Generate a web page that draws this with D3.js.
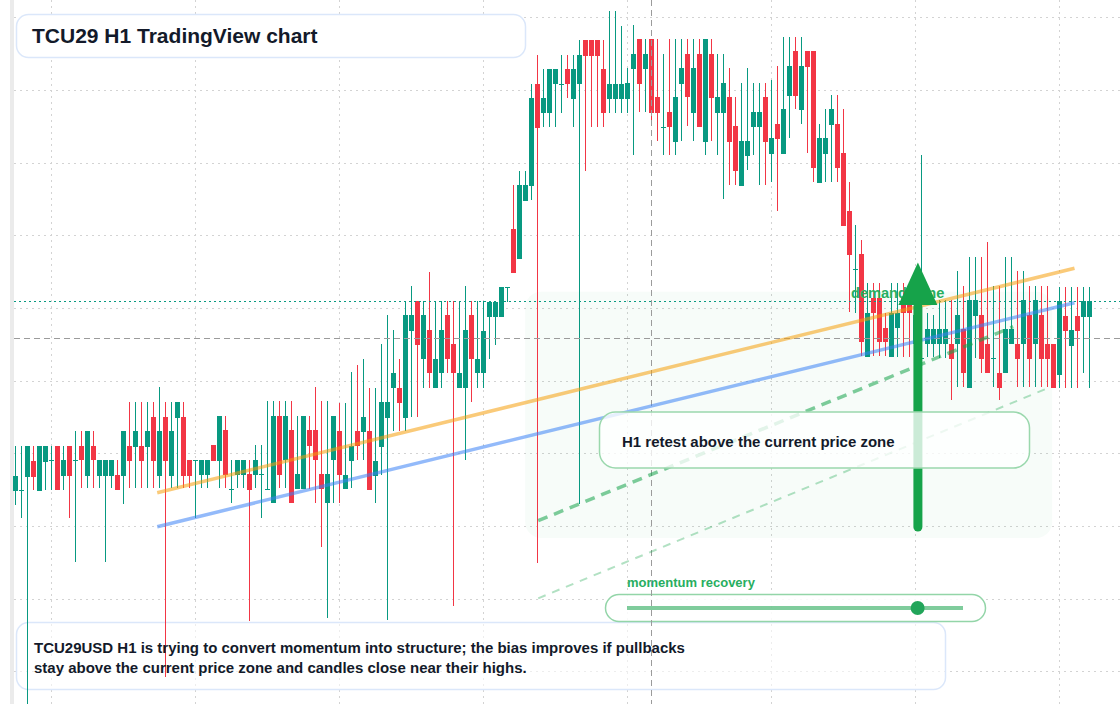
<!DOCTYPE html>
<html>
<head>
<meta charset="utf-8">
<script src="https://cdn.jsdelivr.net/npm/d3@7"></script>
<style>
  html, body { margin: 0; padding: 0; background: #fff; }
  svg { display: block; font-family: "Liberation Sans", Arial, sans-serif; }
</style>
</head>
<body>
<div id="chart"></div>
<script>
// H1 candles (price units)
const opens = [
  50.93,51.00,52.33,53.90,50.93,53.83,53.97,55.40,52.40,55.40,
  53.97,55.40,52.40,55.40,52.40,52.40,52.40,52.50,52.40,55.40,
  55.33,55.40,55.33,58.33,52.40,58.33,52.40,58.23,58.33,54.00,
  53.97,52.50,52.50,55.50,53.90,57.00,51.07,52.50,52.50,52.57,
  52.50,52.57,51.07,49.67,58.40,54.00,57.00,51.07,51.07,57.00,
  57.00,52.57,49.67,54.00,56.90,51.07,53.90,56.90,56.83,56.90,
  52.40,55.33,58.23,61.17,61.23,58.23,66.93,69.90,64.07,67.00,
  61.17,62.67,68.50,65.60,61.17,61.17,68.50,62.67,62.67,68.33,
  68.33,68.33,71.27,77.10,74.10,79.93,81.43,91.60,88.67,88.67,
  91.57,91.57,93.10,90.10,91.57,96.00,96.00,96.00,93.10,90.10,
  90.10,90.10,90.10,93.10,96.10,93.10,96.10,90.27,87.33,88.77,
  85.83,91.60,94.60,88.73,94.60,85.83,94.60,88.73,88.73,90.27,
  87.40,81.43,84.43,87.33,87.33,90.27,84.60,87.60,84.60,90.43,
  94.90,89.00,94.90,94.90,81.73,84.60,87.50,87.60,84.73,78.90,
  73.07,74.60,64.33,70.17,70.17,67.23,64.33,67.23,70.17,70.17,
  65.60,64.20,65.57,65.57,65.57,65.57,65.60,65.57,67.10,61.23,
  68.43,68.50,65.60,64.17,62.67,62.67,65.57,65.60,65.57,68.50,
  65.57,68.50,65.60,65.60,62.50,68.40,65.43,68.40,68.33,68.33
];
const highs = [
  55.40,55.40,55.40,55.40,55.40,55.40,55.40,55.40,55.40,55.40,
  56.90,56.90,56.90,56.90,54.00,54.00,54.00,54.00,56.90,59.83,
  59.83,59.83,59.83,59.83,61.27,59.83,59.83,59.83,59.83,54.00,
  53.97,54.00,54.00,55.50,58.40,58.40,53.97,54.00,54.00,53.97,
  55.50,55.50,59.90,59.90,59.90,59.90,59.90,58.40,58.40,58.40,
  61.33,59.90,59.90,58.40,59.73,59.73,62.80,63.50,64.10,61.23,
  61.23,65.60,68.50,67.00,64.10,69.90,71.40,69.90,69.90,72.80,
  69.90,69.90,69.90,69.90,69.90,71.40,69.90,69.90,69.90,69.83,
  69.83,71.33,71.27,81.50,82.90,82.90,91.60,94.50,93.10,93.10,
  93.10,94.50,94.50,94.50,96.00,96.00,96.00,96.00,96.00,98.90,
  98.90,97.40,93.17,97.50,96.10,96.10,96.10,96.10,94.60,96.10,
  96.10,96.10,96.10,96.10,96.10,96.10,96.10,94.60,94.60,93.17,
  90.27,91.67,93.17,91.67,91.67,91.67,92.00,93.40,96.33,96.33,
  96.33,96.33,94.90,94.90,87.60,89.10,90.50,90.50,89.10,81.83,
  77.50,76.00,71.73,71.73,71.73,68.67,71.73,71.73,71.73,71.73,
  70.00,84.50,68.67,68.50,70.00,70.00,70.00,72.90,71.40,74.27,
  74.27,74.27,75.77,71.40,71.40,74.27,74.27,72.90,72.90,71.40,
  71.40,71.40,71.40,65.60,71.27,71.27,71.27,71.27,71.27,71.27
];
const lows = [
  49.50,48.17,29.60,51.00,50.93,51.00,51.00,51.00,51.00,48.23,
  43.83,51.17,51.17,51.17,51.17,43.83,51.17,51.00,49.60,51.17,
  51.17,51.17,51.17,51.17,51.17,32.33,51.17,51.17,51.17,51.17,
  48.17,51.17,51.17,53.90,51.17,51.17,49.73,51.17,51.17,37.90,
  51.17,48.23,51.07,49.67,51.17,51.17,49.67,51.07,51.07,51.07,
  49.67,45.33,38.17,49.67,49.67,51.07,51.17,54.00,54.00,51.00,
  49.67,52.50,38.00,56.90,56.90,56.90,58.33,58.33,61.23,61.23,
  61.17,61.23,62.67,39.43,61.17,54.00,59.83,61.23,61.17,64.07,
  65.50,68.33,69.83,72.73,74.10,79.93,80.00,43.73,87.33,87.33,
  87.33,88.73,90.17,87.33,49.60,82.93,87.33,87.33,87.33,88.73,
  88.73,88.73,88.73,84.50,88.77,88.77,87.67,85.93,84.50,84.50,
  84.50,85.93,87.40,85.93,87.33,84.50,85.93,84.50,80.10,81.50,
  81.50,81.43,83.00,84.50,81.50,81.50,81.77,78.93,84.60,86.23,
  89.10,87.60,84.73,81.77,81.73,81.77,81.77,81.77,77.43,68.77,
  68.67,64.43,64.33,64.40,64.40,64.40,64.33,64.33,64.33,64.33,
  64.00,64.00,64.27,64.27,64.17,64.17,60.00,61.33,61.33,61.23,
  64.17,62.67,62.67,61.33,60.00,62.67,65.57,61.33,61.33,61.33,
  61.33,61.33,61.33,61.23,61.23,61.23,61.23,61.23,62.67,61.23
];
const closes = [
  52.40,51.00,55.40,52.33,55.40,55.40,53.97,51.00,54.00,52.40,
  53.97,53.97,56.90,53.97,54.00,54.00,54.00,51.00,56.90,53.90,
  56.90,53.90,56.90,53.90,56.90,53.90,56.90,59.83,52.40,52.40,
  53.97,54.00,54.00,53.90,58.40,52.50,51.07,54.00,54.00,51.00,
  54.00,52.57,51.07,58.40,52.50,58.40,49.67,52.57,58.40,55.43,
  54.00,51.07,52.57,58.40,52.50,52.50,55.43,55.43,58.33,51.00,
  53.90,59.77,59.77,62.67,59.73,68.50,68.50,65.50,68.50,62.67,
  64.10,67.00,64.07,62.67,62.67,67.00,64.07,64.10,66.93,69.83,
  69.83,71.33,71.27,72.73,81.50,81.50,90.23,87.23,90.23,93.10,
  93.10,91.57,91.57,93.10,94.50,94.43,94.43,94.43,88.67,91.57,
  91.57,91.57,91.67,94.60,91.60,94.60,88.67,88.73,87.33,87.33,
  90.27,93.17,90.27,93.17,87.33,96.10,90.23,90.27,91.67,85.83,
  82.93,85.90,85.90,88.77,88.77,85.83,86.23,86.10,89.10,93.40,
  90.43,93.40,93.33,83.23,86.23,86.23,89.10,83.23,77.43,74.50,
  73.07,65.77,68.67,68.67,65.77,65.77,68.67,68.67,68.67,68.67,
  68.50,64.20,67.07,67.07,67.07,67.10,64.10,68.50,62.67,70.00,
  70.00,64.10,62.67,64.17,61.23,67.10,67.10,64.10,70.00,64.10,
  70.00,64.10,64.10,61.23,69.90,66.93,67.00,66.93,69.90,69.90
];

// grid positions (no labels shown on the chart)
const priceGrid = [98.27, 91.00, 83.73, 76.47, 69.20, 61.93, 54.67, 47.40, 40.13, 32.87];
const timeGrid = [6, 30, 54, 78, 102, 126, 150, 174];

// drawings: [candle index, price]
const trendOrange = [[23.62, 50.73], [176.5, 73.17]];
const trendBlue = [[23.62, 47.33], [176.5, 69.73]];
const retestPath = [[87.12, 47.93], [166.28, 67.33]];
const lowerPath = [[87.12, 40.17], [172.12, 61.20]];
const zoneIdx = [84.95, 172.78];
const zonePrice = [46.20, 70.83];
const arrowIdx = 150.4;
const arrowPrice = [47.30, 69.50, 73.75]; // tail, head base, tip
const crossIdx = 106;
const crossPrice = 66.17;
const momentum = 0.865;

const width = 1120, height = 704;
const up = "#089981", down = "#f23645";
const textDark = "#131a2a";

const svg = d3.select("#chart")
    .append("svg")
    .attr("width", width)
    .attr("height", height);

svg.append("rect").attr("width", width).attr("height", height).attr("fill", "#fff");

const x = d3.scaleLinear()
    .domain([0, opens.length - 1])
    .range([15.5, 15.5 + 6 * (opens.length - 1)]);

const y = d3.scaleLinear()
    .domain([29.6, 100])
    .range([height, 0]);

const crisp = v => Math.round(v) + 0.5;

// left strip
svg.append("rect")
    .attr("x", 10).attr("y", 0)
    .attr("width", 4).attr("height", height)
    .attr("fill", "#ebebeb");

// grid
svg.append("g")
    .selectAll("line")
    .data(priceGrid)
    .join("line")
    .attr("x1", 14).attr("x2", width)
    .attr("y1", d => crisp(y(d))).attr("y2", d => crisp(y(d)))
    .attr("stroke", "#d3d3d3")
    .attr("stroke-dasharray", "2 4");

svg.append("g")
    .selectAll("line")
    .data(timeGrid)
    .join("line")
    .attr("x1", d => x(d)).attr("x2", d => x(d))
    .attr("y1", 0).attr("y2", height)
    .attr("stroke", "#d3d3d3")
    .attr("stroke-dasharray", "2 4");

// demand zone
svg.append("rect")
    .attr("x", x(zoneIdx[0]))
    .attr("y", y(zonePrice[1]))
    .attr("width", x(zoneIdx[1]) - x(zoneIdx[0]))
    .attr("height", y(zonePrice[0]) - y(zonePrice[1]))
    .attr("rx", 16)
    .attr("fill", "#16a34a")
    .attr("fill-opacity", 0.035);

// bottom note box
svg.append("rect")
    .attr("x", 16.5).attr("y", 622.5)
    .attr("width", 929).attr("height", 67)
    .attr("rx", 12)
    .attr("fill", "#fff").attr("fill-opacity", 0.6)
    .attr("stroke", "#dbe7fa").attr("stroke-width", 1.5);

// momentum pill
const pill = svg.append("g");
pill.append("rect")
    .attr("x", 605.5).attr("y", 594.5)
    .attr("width", 380).attr("height", 27)
    .attr("rx", 13.5)
    .attr("fill", "#fff").attr("fill-opacity", 0.85)
    .attr("stroke", "#93d5a8").attr("stroke-width", 1.5);

const track = d3.scaleLinear().domain([0, 1]).range([627, 963]);
pill.append("line")
    .attr("x1", track(0)).attr("x2", track(1))
    .attr("y1", 608).attr("y2", 608)
    .attr("stroke", "#16a34a").attr("stroke-opacity", 0.55)
    .attr("stroke-width", 4);
pill.append("circle")
    .attr("cx", track(momentum)).attr("cy", 608)
    .attr("r", 7)
    .attr("fill", "#22a55a");
pill.append("text")
    .attr("x", 627).attr("y", 587)
    .attr("font-size", 13).attr("font-weight", 700)
    .attr("fill", "#27ae60")
    .text("momentum recovery");

// candles
const candles = opens.map((o, i) => ({i, o, h: highs[i], l: lows[i], c: closes[i]}));

const cg = svg.append("g");
cg.selectAll("line")
    .data(candles)
    .join("line")
    .attr("x1", d => x(d.i)).attr("x2", d => x(d.i))
    .attr("y1", d => Math.round(y(d.h))).attr("y2", d => Math.round(y(d.l)))
    .attr("stroke", d => d.c >= d.o ? up : down)
    .attr("stroke-width", 1);

cg.selectAll("rect")
    .data(candles)
    .join("rect")
    .attr("x", d => x(d.i) - 2.5)
    .attr("width", 5)
    .attr("y", d => Math.round(y(Math.max(d.o, d.c))))
    .attr("height", d => Math.max(1, Math.round(y(Math.min(d.o, d.c))) - Math.round(y(Math.max(d.o, d.c)))))
    .attr("fill", d => d.c >= d.o ? up : down);

// crosshair
svg.append("line")
    .attr("x1", x(crossIdx)).attr("x2", x(crossIdx))
    .attr("y1", 0).attr("y2", height)
    .attr("stroke", "#9b9b9b").attr("stroke-dasharray", "6 4");
svg.append("line")
    .attr("x1", 14).attr("x2", width)
    .attr("y1", crisp(y(crossPrice))).attr("y2", crisp(y(crossPrice)))
    .attr("stroke", "#9b9b9b").attr("stroke-dasharray", "6 4");

// last price line
const lastClose = closes[closes.length - 1];
svg.append("line")
    .attr("x1", 14).attr("x2", width)
    .attr("y1", crisp(y(lastClose))).attr("y2", crisp(y(lastClose)))
    .attr("stroke", up).attr("stroke-width", 1.2)
    .attr("stroke-dasharray", "2 3");

// trend lines
const line = d3.line().x(d => x(d[0])).y(d => y(d[1]));

svg.append("path").attr("d", line(trendOrange))
    .attr("fill", "none").attr("stroke", "#f59e0b")
    .attr("stroke-opacity", 0.55).attr("stroke-width", 3.5);
svg.append("path").attr("d", line(trendBlue))
    .attr("fill", "none").attr("stroke", "#3b82f6")
    .attr("stroke-opacity", 0.55).attr("stroke-width", 3.5);
svg.append("path").attr("d", line(retestPath))
    .attr("fill", "none").attr("stroke", "#16a34a")
    .attr("stroke-opacity", 0.55).attr("stroke-width", 3.5)
    .attr("stroke-dasharray", "10 7");
svg.append("path").attr("d", line(lowerPath))
    .attr("fill", "none").attr("stroke", "#16a34a")
    .attr("stroke-opacity", 0.33).attr("stroke-width", 2)
    .attr("stroke-dasharray", "8 7");

// demand label + arrow
svg.append("text")
    .attr("x", 851).attr("y", 297.5)
    .attr("font-size", 14.6).attr("font-weight", 700)
    .attr("fill", "#27ae60")
    .text("demand zone");

const ax = x(arrowIdx);
svg.append("line")
    .attr("x1", ax).attr("x2", ax)
    .attr("y1", y(arrowPrice[0])).attr("y2", y(arrowPrice[1]) + 2)
    .attr("stroke", "#16a34a").attr("stroke-width", 9)
    .attr("stroke-linecap", "round");
svg.append("path")
    .attr("d", `M${ax - 19.5},${y(arrowPrice[1])} L${ax},${y(arrowPrice[2])} L${ax + 19.5},${y(arrowPrice[1])} Z`)
    .attr("fill", "#16a34a");

// retest label box
svg.append("rect")
    .attr("x", 599.5).attr("y", 412)
    .attr("width", 430).attr("height", 56)
    .attr("rx", 16)
    .attr("fill", "#fff").attr("fill-opacity", 0.78)
    .attr("stroke", "#9ad8ad").attr("stroke-width", 1.5);
svg.append("text")
    .attr("x", 622).attr("y", 446.5)
    .attr("font-size", 15).attr("font-weight", 700)
    .attr("fill", textDark)
    .text("H1 retest above the current price zone");

// bottom note text
const note = svg.append("text")
    .attr("font-size", 15).attr("font-weight", 700)
    .attr("fill", textDark);
note.append("tspan").attr("x", 34).attr("y", 652.5)
    .text("TCU29USD H1 is trying to convert momentum into structure; the bias improves if pullbacks");
note.append("tspan").attr("x", 34).attr("y", 672.5)
    .text("stay above the current price zone and candles close near their highs.");

// title
svg.append("rect")
    .attr("x", 16.5).attr("y", 14.5)
    .attr("width", 509).attr("height", 43)
    .attr("rx", 12)
    .attr("fill", "#fff")
    .attr("stroke", "#dbe7fa").attr("stroke-width", 1.5);
svg.append("text")
    .attr("x", 32).attr("y", 43)
    .attr("font-size", 21).attr("font-weight", 700)
    .attr("fill", textDark)
    .text("TCU29 H1 TradingView chart");
</script>
</body>
</html>
